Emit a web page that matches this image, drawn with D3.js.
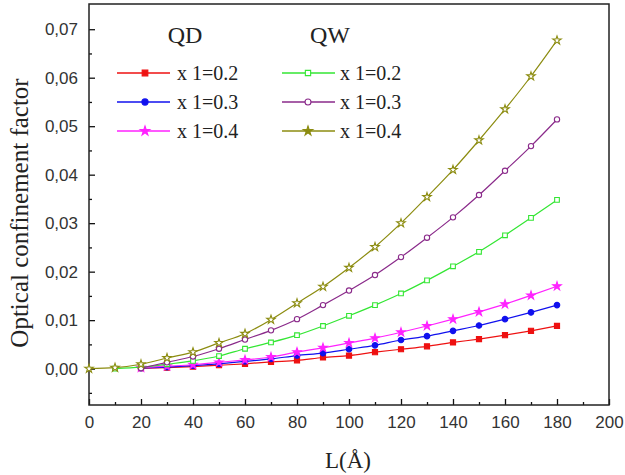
<!DOCTYPE html>
<html>
<head>
<meta charset="utf-8">
<script src="https://cdn.jsdelivr.net/npm/d3@7"></script>
<style>
  body { margin: 0; background: #fff; }
</style>
</head>
<body>
<script>
// thickness L (Angstrom), shared by every series
var lengths = [0, 10, 20, 30, 40, 50, 60, 70, 80, 90, 100, 110, 120, 130, 140, 150, 160, 170, 180];

// QD series (null = no point)
var qdX02 = [null, null, 0.0001, 0.0002, 0.0004, 0.0007, 0.0010, 0.0014, 0.0017, 0.0023, 0.0027, 0.0034, 0.0040, 0.0046, 0.0054, 0.0061, 0.0069, 0.0078, 0.0088];
var qdX03 = [null, null, 0.0001, 0.0003, 0.0006, 0.0010, 0.0015, 0.0020, 0.0027, 0.0032, 0.0040, 0.0048, 0.0059, 0.0067, 0.0078, 0.0089, 0.0102, 0.0116, 0.0131];
var qdX04 = [null, null, 0.0002, 0.0005, 0.0008, 0.0013, 0.0018, 0.0024, 0.0034, 0.0043, 0.0053, 0.0063, 0.0075, 0.0088, 0.0102, 0.0117, 0.0133, 0.0151, 0.0170];

// QW series
var qwX02 = [null, 0.0000, 0.0003, 0.0009, 0.0016, 0.0026, 0.0041, 0.0054, 0.0069, 0.0088, 0.0109, 0.0131, 0.0155, 0.0182, 0.0211, 0.0241, 0.0275, 0.0311, 0.0348];
var qwX03 = [null, null, 0.0001, 0.0013, 0.0025, 0.0041, 0.0060, 0.0079, 0.0102, 0.0131, 0.0161, 0.0193, 0.0230, 0.0270, 0.0312, 0.0358, 0.0408, 0.0459, 0.0514];
var qwX04 = [0.0000, 0.0002, 0.0009, 0.0022, 0.0034, 0.0053, 0.0072, 0.0101, 0.0135, 0.0169, 0.0208, 0.0251, 0.0300, 0.0354, 0.0410, 0.0471, 0.0535, 0.0603, 0.0677];

var xTicks = [0, 20, 40, 60, 80, 100, 120, 140, 160, 180, 200];
var yTicks = [0, 0.01, 0.02, 0.03, 0.04, 0.05, 0.06, 0.07];
var legendLabels = ['x 1=0.2', 'x 1=0.3', 'x 1=0.4'];

var width = 625, height = 475;
var margin = {top: 4, right: 16, bottom: 70, left: 89};

var svg = d3.select('body').append('svg').attr('width', width).attr('height', height);

var x = d3.scaleLinear().domain([0, 200]).range([margin.left, width - margin.right]);
var y = d3.scaleLinear().domain([-0.0075, 0.0752]).range([height - margin.bottom, margin.top]);

var commaFmt = d3.formatLocale({decimal: ',', thousands: '.', grouping: [3], currency: ['', '']}).format('.2f');

// series definitions: colour, symbol, filled
var series = [
    {name: 'qd02', values: qdX02, color: '#ee1111', symbol: d3.symbolSquare, size: 26, fill: true},
    {name: 'qd03', values: qdX03, color: '#1010ee', symbol: d3.symbolCircle, size: 24, fill: true},
    {name: 'qd04', values: qdX04, color: '#ff22ff', symbol: d3.symbolStar, size: 22, fill: true},
    {name: 'qw02', values: qwX02, color: '#33e633', symbol: d3.symbolSquare, size: 22, fill: false},
    {name: 'qw03', values: qwX03, color: '#8a2a8a', symbol: d3.symbolCircle, size: 22, fill: false},
    {name: 'qw04', values: qwX04, color: '#8c8c10', symbol: d3.symbolStar, size: 22, fill: false}
];

// axes, ticks pointing inward
var yAxis = svg.append('g').attr('transform', 'translate(' + margin.left + ',0)')
    .call(d3.axisLeft(y).tickValues(yTicks).tickSize(-6).tickSizeOuter(0).tickPadding(11).tickFormat(commaFmt));
var yMinor = svg.append('g').attr('transform', 'translate(' + margin.left + ',0)')
    .call(d3.axisLeft(y).tickValues(d3.range(-0.005, 0.07, 0.01)).tickSize(-3).tickSizeOuter(0).tickFormat(''));
var xAxis = svg.append('g').attr('transform', 'translate(0,' + (height - margin.bottom) + ')')
    .call(d3.axisBottom(x).tickValues(xTicks).tickSize(-6).tickSizeOuter(0).tickPadding(11));
var xMinor = svg.append('g').attr('transform', 'translate(0,' + (height - margin.bottom) + ')')
    .call(d3.axisBottom(x).tickValues(d3.range(10, 200, 20)).tickSize(-3).tickSizeOuter(0).tickFormat(''));

[yAxis, yMinor, xAxis, xMinor].forEach(function (a) {
    a.select('.domain').remove();
    a.selectAll('line').attr('stroke', '#111').attr('stroke-width', 1.3);
    a.selectAll('text').attr('font-family', 'Liberation Sans, Arial, sans-serif').attr('font-size', 17).attr('fill', '#333');
});

// frame
svg.append('rect')
    .attr('x', margin.left).attr('y', margin.top)
    .attr('width', width - margin.left - margin.right)
    .attr('height', height - margin.top - margin.bottom)
    .attr('fill', 'none').attr('stroke', '#222').attr('stroke-width', 1.5);

var line = d3.line()
    .defined(function (d) { return d[1] != null; })
    .x(function (d) { return x(d[0]); })
    .y(function (d) { return y(d[1]); })
    .curve(d3.curveMonotoneX);

series.forEach(function (s) {
    var pts = lengths.map(function (l, i) { return [l, s.values[i]]; });
    svg.append('path')
        .datum(pts)
        .attr('d', line)
        .attr('fill', 'none')
        .attr('stroke', s.color)
        .attr('stroke-width', 1.2);
    svg.append('g').selectAll('path')
        .data(pts.filter(function (d) { return d[1] != null; }))
        .enter().append('path')
        .attr('transform', function (d) { return 'translate(' + x(d[0]) + ',' + y(d[1]) + ')'; })
        .attr('d', d3.symbol().type(s.symbol).size(s.size))
        .attr('fill', s.fill ? s.color : '#fff')
        .attr('stroke', s.color)
        .attr('stroke-width', 1.1);
});

// axis titles
svg.append('text')
    .attr('x', x(100) - 1).attr('y', 468)
    .attr('text-anchor', 'middle')
    .attr('font-family', 'Liberation Serif, Times New Roman, serif')
    .attr('font-size', 23)
    .attr('fill', '#222')
    .text('L(Å)');

svg.append('text')
    .attr('transform', 'translate(28,213) rotate(-90)')
    .attr('text-anchor', 'middle')
    .attr('font-family', 'Liberation Serif, Times New Roman, serif')
    .attr('font-size', 25)
    .attr('fill', '#222')
    .text('Optical confinement factor');

// legend
var legend = svg.append('g').attr('font-family', 'Liberation Serif, Times New Roman, serif').attr('fill', '#222');
var groups = [{title: 'QD', cx: 185, lx0: 117, lx1: 170, mx: 145, tx: 177, items: series.slice(0, 3)},
              {title: 'QW', cx: 330, lx0: 282, lx1: 335, mx: 308, tx: 340, items: series.slice(3)}];
var rowY = [73, 102, 131];

groups.forEach(function (gr) {
    legend.append('text')
        .attr('x', gr.cx).attr('y', 43)
        .attr('text-anchor', 'middle')
        .attr('font-size', 24)
        .text(gr.title);
    gr.items.forEach(function (s, i) {
        legend.append('line')
            .attr('x1', gr.lx0).attr('x2', gr.lx1)
            .attr('y1', rowY[i]).attr('y2', rowY[i])
            .attr('stroke', s.color).attr('stroke-width', 1.3);
        legend.append('path')
            .attr('transform', 'translate(' + gr.mx + ',' + rowY[i] + ')')
            .attr('d', d3.symbol().type(s.symbol).size(s.size + 6))
            .attr('fill', s.fill || s.symbol === d3.symbolStar ? s.color : '#fff')
            .attr('stroke', s.color)
            .attr('stroke-width', 1.1);
        legend.append('text')
            .attr('x', gr.tx).attr('y', rowY[i] + 7)
            .attr('font-size', 20)
            .text(legendLabels[i]);
    });
});
</script>
</body>
</html>
